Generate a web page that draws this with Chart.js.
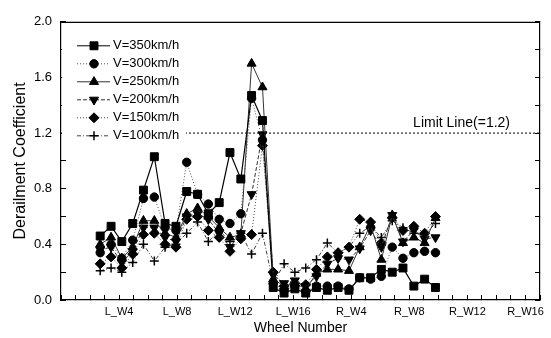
<!DOCTYPE html>
<html>
<head>
<meta charset="utf-8">
<script src="https://cdn.jsdelivr.net/npm/chart.js@4.4.1/dist/chart.umd.min.js"></script>
<style>
  html, body { margin: 0; padding: 0; background: #fff; }
  #wrap { width: 551px; height: 338px; }
</style>
</head>
<body>
<div id="wrap"><canvas id="chart" width="551" height="338"></canvas></div>
<script>
// ── Data ────────────────────────────────────────
const wheelPos = [2.70, 3.45, 4.19, 4.94, 5.68, 6.43, 7.17, 7.92, 8.66, 9.41, 10.15, 10.90, 11.64, 12.39, 13.13, 13.88,
                  14.62, 15.37, 16.11, 16.86, 17.60, 18.35, 19.09, 19.84, 20.58, 21.33, 22.07, 22.82, 23.56, 24.31, 25.05, 25.80];

const v350 = [0.46, 0.53, 0.42, 0.55, 0.79, 1.03, 0.55, 0.53, 0.78, 0.76, 0.62, 0.70, 1.06, 0.87, 1.47, 1.29,
              0.09, 0.05, 0.08, 0.05, 0.09, 0.07, 0.09, 0.07, 0.16, 0.16, 0.22, 0.20, 0.23, 0.10, 0.15, 0.09];
const v300 = [0.34, 0.40, 0.30, 0.43, 0.73, 0.74, 0.52, 0.50, 0.99, 0.76, 0.69, 0.58, 0.55, 0.62, 1.45, 1.15,
              0.12, 0.07, 0.10, 0.06, 0.10, 0.10, 0.10, 0.08, 0.16, 0.15, 0.17, 0.38, 0.30, 0.34, 0.35, 0.34];
const v250 = [0.40, 0.45, 0.30, 0.38, 0.57, 0.57, 0.48, 0.45, 0.62, 0.66, 0.60, 0.52, 0.45, 0.47, 1.70, 1.53,
              0.15, 0.10, 0.12, 0.08, 0.19, 0.22, 0.22, 0.21, 0.38, 0.54, 0.29, 0.61, 0.41, 0.45, 0.41, 0.59];
const v200 = [0.36, 0.38, 0.27, 0.35, 0.52, 0.52, 0.45, 0.42, 0.60, 0.62, 0.58, 0.48, 0.38, 0.48, 0.76, 1.19,
              0.18, 0.12, 0.14, 0.10, 0.17, 0.26, 0.30, 0.29, 0.37, 0.50, 0.38, 0.61, 0.42, 0.50, 0.44, 0.45];
const v150 = [0.26, 0.31, 0.23, 0.33, 0.47, 0.48, 0.40, 0.38, 0.58, 0.60, 0.50, 0.45, 0.35, 0.44, 0.47, 1.11,
              0.20, 0.10, 0.12, 0.11, 0.22, 0.31, 0.34, 0.38, 0.58, 0.56, 0.41, 0.59, 0.50, 0.53, 0.48, 0.60];
const v100 = [0.21, 0.23, 0.20, 0.27, 0.40, 0.28, 0.38, 0.40, 0.48, 0.56, 0.42, 0.50, 0.42, 0.48, 0.33, 0.48,
              0.12, 0.26, 0.20, 0.23, 0.29, 0.41, 0.34, 0.38, 0.48, 0.53, 0.45, 0.57, 0.52, 0.48, 0.47, 0.55];

const seriesLabels = ['V=350km/h', 'V=300km/h', 'V=250km/h', 'V=200km/h', 'V=150km/h', 'V=100km/h'];
const limitValue = 1.2;
const limitLabel = 'Limit Line(=1.2)';
const xTickLabels = { 4: 'L_W4', 8: 'L_W8', 12: 'L_W12', 16: 'L_W16', 20: 'R_W4', 24: 'R_W8', 28: 'R_W12', 32: 'R_W16' };
const xMin = 0, xMax = 33;

const FONT = '"Liberation Sans", Arial, sans-serif';

// ── Styles per series ─────────────────
const styles = [
    { pointStyle: 'rect',     rotation: 0,   radius: 5.6, color: '#000', dash: [] },
    { pointStyle: 'circle',   rotation: 0,   radius: 4.2, color: '#555', dash: [1, 2] },
    { pointStyle: 'triangle', rotation: 0,   radius: 5.2, color: '#333', dash: [] },
    { pointStyle: 'triangle', rotation: 180, radius: 5.2, color: '#333', dash: [4, 2] },
    { pointStyle: 'rectRot',  rotation: 0,   radius: 5.0, color: '#444', dash: [1, 2] },
    { pointStyle: 'cross',    rotation: 0,   radius: 4.5, color: '#444', dash: [4, 2, 1, 2] }
];

const allValues = [v350, v300, v250, v200, v150, v100];

const datasets = allValues.map((vals, i) => ({
    label: seriesLabels[i],
    data: vals.map((v, k) => ({ x: wheelPos[k], y: v })),
    borderColor: styles[i].color,
    borderWidth: i === 0 ? 1.2 : 1,
    borderDash: styles[i].dash,
    pointStyle: styles[i].pointStyle,
    rotation: styles[i].rotation,
    pointRadius: styles[i].radius,
    pointBackgroundColor: '#000',
    pointBorderColor: '#000',
    pointBorderWidth: styles[i].pointStyle === 'cross' ? 1.5 : 1,
    tension: 0,
    fill: false
}));

// garis batas
datasets.unshift({
    label: 'limit',
    data: [{ x: xMin, y: limitValue }, { x: xMax, y: limitValue }],
    borderColor: '#000',
    borderWidth: 1,
    borderDash: [2, 2],
    pointRadius: 0,
    fill: false
});

// ── Plugin: frame, legend di dalam plot, label limit ─────────────────
const framePlugin = {
    id: 'frame',
    afterDatasetsDraw(chart) {
        const { ctx, chartArea: a } = chart;
        const H = Chart.helpers;
        ctx.save();
        // top border
        ctx.strokeStyle = '#000';
        ctx.lineWidth = 1.2;
        ctx.beginPath();
        ctx.moveTo(a.left, a.top + 0.5);
        ctx.lineTo(a.right, a.top + 0.5);
        ctx.stroke();

        // legend box
        const lx = a.left + 1, ly = a.top + 12;
        ctx.fillStyle = '#fff';
        ctx.fillRect(lx, ly, 124, 112);
        ctx.font = '13px ' + FONT;
        ctx.textBaseline = 'middle';
        ctx.textAlign = 'left';
        seriesLabels.forEach((lab, i) => {
            const y = ly + 12 + i * 18;
            const s = styles[i];
            ctx.strokeStyle = s.color;
            ctx.lineWidth = 1;
            ctx.setLineDash(s.dash);
            ctx.beginPath();
            ctx.moveTo(lx + 15, y);
            ctx.lineTo(lx + 48, y);
            ctx.stroke();
            ctx.setLineDash([]);
            ctx.fillStyle = '#000';
            ctx.strokeStyle = '#000';
            ctx.lineWidth = s.pointStyle === 'cross' ? 1.5 : 1;
            H.drawPoint(ctx, { pointStyle: s.pointStyle, rotation: s.rotation, radius: s.radius, borderWidth: 1 }, lx + 32, y);
            ctx.fillStyle = '#000';
            ctx.fillText(lab, lx + 51, y);
        });

        // label limit line
        const yScale = chart.scales.y;
        ctx.font = '14px ' + FONT;
        ctx.textAlign = 'right';
        ctx.textBaseline = 'bottom';
        ctx.fillText(limitLabel, a.right - 30, yScale.getPixelForValue(limitValue) - 3);
        ctx.restore();
    }
};

const ctx = document.getElementById('chart').getContext('2d');
new Chart(ctx, {
    type: 'line',
    data: { datasets },
    options: {
        responsive: false,
        animation: false,
        layout: { padding: { top: 14, right: 0, left: 0, bottom: 0 } },
        plugins: { legend: { display: false }, tooltip: { enabled: false } },
        scales: {
            x: {
                type: 'linear',
                min: xMin,
                max: xMax,
                grid: { drawOnChartArea: false, tickLength: -5, color: '#000', lineWidth: 1 },
                border: { color: '#000', width: 1.2 },
                ticks: {
                    stepSize: 1,
                    autoSkip: false,
                    maxRotation: 0,
                    padding: 10,
                    color: '#000',
                    font: { family: FONT, size: 11 },
                    callback: (v) => xTickLabels[v] || ''
                },
                title: {
                    display: true,
                    text: 'Wheel Number',
                    color: '#000',
                    font: { family: FONT, size: 14 },
                    padding: { top: 0, bottom: 1 }
                },
                afterFit: (s) => { s.height = 38; }
            },
            y: {
                min: 0,
                max: 2,
                grid: { drawOnChartArea: false, tickLength: -5, color: '#000', lineWidth: 1 },
                border: { color: '#000', width: 1.2 },
                ticks: {
                    stepSize: 0.2,
                    padding: 14,
                    color: '#000',
                    font: { family: FONT, size: 13 },
                    callback: (v) => (Math.round(v * 10) % 4 === 0 ? v.toFixed(1) : '')
                },
                title: {
                    display: true,
                    text: 'Derailment Coefficient',
                    color: '#000',
                    font: { family: FONT, size: 16 },
                    padding: { top: 11, bottom: 0 }
                },
                afterFit: (s) => { s.width = 61; }
            },
            y2: {
                position: 'right',
                min: 0,
                max: 2,
                grid: { drawOnChartArea: false, tickLength: -5, color: '#000', lineWidth: 1 },
                border: { color: '#000', width: 1.2 },
                ticks: { stepSize: 0.2, display: false },
                afterFit: (s) => { s.width = 11; }
            }
        }
    },
    plugins: [framePlugin]
});
</script>
</body>
</html>
